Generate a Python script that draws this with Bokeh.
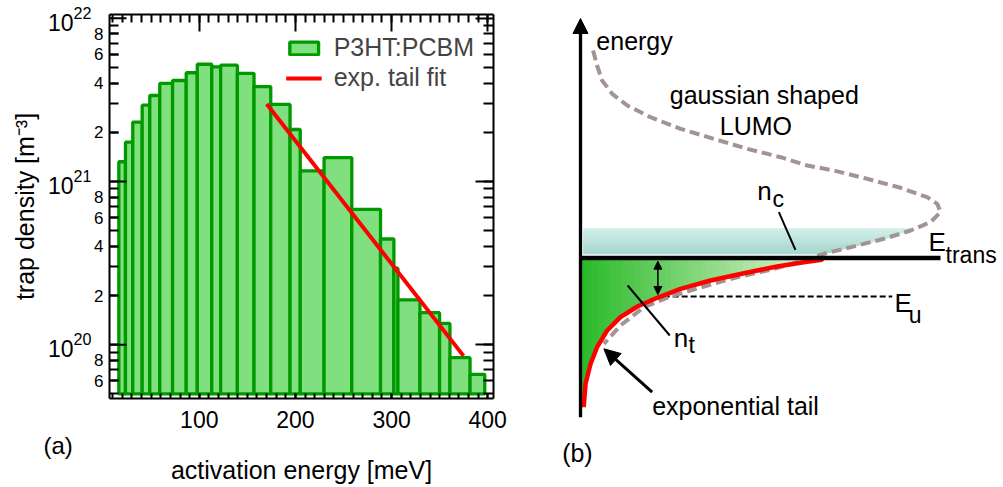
import numpy as np
from bokeh.plotting import figure
from bokeh.models import (Range1d, LogAxis, LinearAxis, FixedTicker, LogTickFormatter,
                          CustomJSTickFormatter, Title, Legend, LegendItem, Arrow, NormalHead)
from bokeh.layouts import row
from bokeh.core.properties import value
from bokeh.embed import file_html
from bokeh.resources import INLINE

FONT = "Liberation Sans"

# ---------------- panel (a) data ----------------
bin_edges = [16.3, 23.2, 30.8, 40.6, 48.5, 58.9, 72.2, 86.4, 97.9, 113.0, 122.2, 139.6, 156.9,
             174.3, 194.4, 205.0, 229.8, 258.6, 288.5, 302.4, 306.6, 329.5, 349.9, 360.7, 381.6, 396.9]
trap_density = [1.32e21, 1.74e21, 2.31e21, 2.93e21, 3.36e21, 3.99e21, 4.15e21, 4.63e21, 5.22e21,
                5.03e21, 5.15e21, 4.59e21, 3.81e21, 2.96e21, 2.08e21, 1.16e21, 1.40e21, 6.75e20,
                4.44e20, 2.94e20, 1.88e20, 1.57e20, 1.35e20, 8.32e19, 6.58e19]
fit_energy = [170.1, 374.8]
fit_density = [2.98e21, 8.54e19]
bar_base = 5e19

x_ticks = [100, 200, 300, 400]
x_minor = list(range(10, 410, 10))
y_ticks = [1e20, 1e21, 1e22]
y_minor = [k * 10.0 ** e for e in (19, 20, 21) for k in range(1, 10)]
minor_label_vals = [6e19, 8e19, 2e20, 4e20, 6e20, 8e20, 2e21, 4e21, 6e21, 8e21]

# ---------------- panel (b) data (schematic units) ----------------
gauss_x = [0.035, 0.046, 0.060, 0.088, 0.130, 0.194, 0.278, 0.370, 0.463, 0.556, 0.630, 0.704,
           0.796, 0.889, 0.963, 0.991, 1.000, 0.972, 0.917, 0.843, 0.750, 0.676, 0.620, 0.528,
           0.435, 0.343, 0.250, 0.176, 0.111, 0.065]
gauss_y = [2.075, 1.925, 1.775, 1.642, 1.525, 1.408, 1.292, 1.192, 1.092, 1.008, 0.925, 0.875,
           0.792, 0.702, 0.608, 0.542, 0.458, 0.358, 0.275, 0.192, 0.108, 0.042, -0.025, -0.118,
           -0.192, -0.285, -0.385, -0.492, -0.675, -0.858]
tail_x = [0.009, 0.014, 0.028, 0.046, 0.074, 0.111, 0.158, 0.213, 0.278, 0.361, 0.454, 0.546,
          0.620, 0.671, 0.672]
tail_y = [-1.492, -1.258, -1.058, -0.892, -0.725, -0.592, -0.485, -0.398, -0.308, -0.225,
          -0.152, -0.085, -0.042, -0.018, 0.0]
E_trans = 0.0
E_trans_span = [0.0, 1.0]
E_u = -0.385
E_u_span = [0.231, 0.866]
nc_band = [0.042, 0.292]   # energy span of the n_c band
band_left = 0.009
ptr_x0 = [0.551, 0.131]
ptr_y0 = [0.458, -0.275]
ptr_x1 = [0.597, 0.248]
ptr_y1 = [0.082, -0.775]
energy_axis = [0.0, -1.592, 0.0, 2.395]
double_arrow = [0.215, -0.032, 0.215, -0.365]
tail_arrow = [0.199, -1.342, 0.065, -0.908]

main_text = ["energy", "gaussian shaped", "LUMO", "exponential tail", "(b)"]
main_text_x = [0.044, 0.248, 0.387, 0.199, -0.051]
main_text_y = [2.108, 1.575, 1.258, -1.542, -2.008]
sym_text = ["n", "E", "E", "n"]
sym_x = [0.491, 0.967, 0.872, 0.259]
sym_y = [0.615, 0.102, -0.508, -0.858]
sub_text = ["c", "trans", "u", "t"]
sub_x = [0.533, 1.014, 0.912, 0.300]
sub_y = [0.535, -0.032, -0.625, -0.925]

# ================= panel (a) =================
x_start, x_end = 6.6, 406.0
p1 = figure(width=540, height=487, x_range=Range1d(x_start, x_end),
            y_range=Range1d(4.68e19, 1.053e22), y_axis_type="log",
            output_backend="svg", toolbar_location=None,
            min_border_left=109, min_border_right=47, min_border_top=14, min_border_bottom=89)
p1.grid.visible = False
p1.outline_line_color = None
p1.frame_align = False

r_bars = p1.quad(left=bin_edges[:-1], right=bin_edges[1:], bottom=bar_base, top=trap_density,
                 fill_color="#80e080", line_color="#009900", line_width=3.3)
r_fit = p1.line(fit_energy, fit_density, line_color="#ff0000", line_width=4)
# long decade ticks on the left frame edge
p1.ray(x=[x_start] * len(y_ticks), y=y_ticks, length=17, length_units="screen", angle=0,
       line_color="black", line_width=2)


def style_axis(ax, labels=True):
    ax.axis_line_width = 2
    ax.major_tick_line_width = 2
    ax.minor_tick_line_width = 2
    ax.major_tick_out = 0
    ax.minor_tick_out = 0
    ax.major_label_text_font = FONT
    ax.major_label_text_color = "black"
    ax.axis_label_text_font = FONT
    ax.axis_label_text_font_style = "normal"
    ax.axis_label_text_color = "black"
    if not labels:
        ax.major_label_text_font_size = "1px"
        ax.major_label_text_alpha = 0
        ax.major_label_standoff = 0


# inner left axis: frame line, minor ticks and the small 2/4/6/8 labels
yax = p1.yaxis[0]
yax.ticker = FixedTicker(ticks=minor_label_vals, minor_ticks=y_minor)
yax.formatter = CustomJSTickFormatter(
    code="const e = Math.floor(Math.log10(tick) + 1e-9); return String(Math.round(tick / Math.pow(10, e)));")
style_axis(yax)
yax.major_tick_in = 9
yax.minor_tick_in = 9
yax.major_label_text_font_size = "17px"
yax.major_label_standoff = 6

# outer left axis: decade labels and axis title
oax = LogAxis(ticker=FixedTicker(ticks=y_ticks), formatter=LogTickFormatter())
style_axis(oax)
oax.axis_line_color = None
oax.major_tick_line_color = None
oax.minor_tick_line_color = None
oax.major_tick_in = 0
oax.minor_tick_in = 0
oax.major_label_text_font_size = "23px"
oax.major_label_standoff = 0
oax.axis_label = "trap density [m⁻³]"
oax.axis_label_text_font_size = "25px"
oax.axis_label_standoff = 6
p1.add_layout(oax, "left")

xax = p1.xaxis[0]
xax.ticker = FixedTicker(ticks=x_ticks, minor_ticks=x_minor)
style_axis(xax)
xax.major_tick_in = 5
xax.minor_tick_in = 5
xax.major_label_text_font_size = "23px"
xax.major_label_standoff = 12

rax = LogAxis(ticker=FixedTicker(ticks=y_ticks, minor_ticks=y_minor))
style_axis(rax, labels=False)
rax.major_tick_in = 18
rax.minor_tick_in = 10
p1.add_layout(rax, "right")

tax = LinearAxis(ticker=FixedTicker(ticks=x_ticks, minor_ticks=x_minor))
style_axis(tax, labels=False)
tax.major_tick_in = 17
tax.minor_tick_in = 8
p1.add_layout(tax, "above")

p1.add_layout(Title(text="(a)", align="left", offset=-66, standoff=-2, text_font=FONT,
                    text_font_size="24px", text_font_style="normal", text_color="black"), "below")
p1.add_layout(Title(text="activation energy [meV]", align="center", standoff=-8, text_font=FONT,
                    text_font_size="25px", text_font_style="normal", text_color="black"), "below")

legend = Legend(items=[LegendItem(label="P3HT:PCBM", renderers=[r_bars]),
                       LegendItem(label="exp. tail fit", renderers=[r_fit])],
                location="top_right", margin=19, padding=0, spacing=1,
                glyph_width=36, glyph_height=16, label_standoff=12,
                label_text_font=FONT, label_text_font_size="25px",
                border_line_color=None, background_fill_alpha=0)
p1.add_layout(legend)

# ================= panel (b) =================
p2 = figure(width=463, height=487, x_range=Range1d(-0.1111, 1.175), y_range=Range1d(-2.295, 2.575),
            x_axis_type=None, y_axis_type=None, output_backend="svg", toolbar_location=None,
            min_border=0)
p2.outline_line_color = None
p2.grid.visible = False
p2.frame_align = False


def mix(c0, c1, t):
    r, g, b = (int(round(a + (bb - a) * t)) for a, bb in zip(c0, c1))
    return "#%02x%02x%02x" % (r, g, b)


# teal n_c band (vertical gradient), right edge follows lower branch of the gaussian
low_y = gauss_y[16:][::-1]
low_x = gauss_x[16:][::-1]
nb = 14
yb = np.linspace(nc_band[0], nc_band[1], nb + 1)
band_xs, band_ys, band_cols = [], [], []
for i in range(nb):
    yy = np.linspace(yb[i], yb[i + 1], 3)
    xr = np.interp(yy, low_y, low_x)
    band_xs.append([band_left] + list(xr) + [band_left])
    band_ys.append([yb[i]] + list(yy) + [yb[i + 1]])
    band_cols.append(mix((163, 213, 204), (210, 239, 233), (i + 0.5) / nb))
p2.patches(band_xs, band_ys, fill_color=band_cols, line_color=band_cols, line_width=1)

# green trapped-carrier fill (horizontal gradient) under the exponential tail
ng = 40
xg = np.linspace(0.0, tail_x[-1], ng + 1)
g_xs, g_ys, g_cols = [], [], []
for i in range(ng):
    xx = np.linspace(xg[i], xg[i + 1], 4)
    yy = np.interp(xx, tail_x, tail_y)
    g_xs.append([xg[i]] + list(xx) + [xg[i + 1]])
    g_ys.append([E_trans] + list(yy) + [E_trans])
    g_cols.append(mix((40, 185, 40), (230, 247, 214), (i + 0.5) / ng))
p2.patches(g_xs, g_ys, fill_color=g_cols, line_color=g_cols, line_width=1)

# E_u dashed level
p2.line(E_u_span, [E_u, E_u], line_color="black", line_width=2, line_dash="6 3")
# gaussian LUMO DOS (dashed)
p2.line(gauss_x, gauss_y, line_color="#a39494", line_width=4, line_dash="10 5")
# exponential tail
p2.line(tail_x, tail_y, line_color="#ff0000", line_width=4.5)
# transport level
p2.line(E_trans_span, [E_trans, E_trans], line_color="black", line_width=4.5)
# pointer lines
p2.segment(ptr_x0, ptr_y0, ptr_x1, ptr_y1, line_color="black", line_width=2)

p2.add_layout(Arrow(x_start=energy_axis[0], y_start=energy_axis[1], x_end=energy_axis[2],
                    y_end=energy_axis[3], line_width=3.3, line_color="black",
                    end=NormalHead(size=15, fill_color="black", line_color="black", line_width=1)))
p2.add_layout(Arrow(x_start=double_arrow[0], y_start=double_arrow[1], x_end=double_arrow[2],
                    y_end=double_arrow[3], line_width=1.5, line_color="black",
                    start=NormalHead(size=8, fill_color="black", line_color="black", line_width=1),
                    end=NormalHead(size=8, fill_color="black", line_color="black", line_width=1)))
p2.add_layout(Arrow(x_start=tail_arrow[0], y_start=tail_arrow[1], x_end=tail_arrow[2],
                    y_end=tail_arrow[3], line_width=3, line_color="black",
                    end=NormalHead(size=16, fill_color="black", line_color="black", line_width=1)))

p2.text(main_text_x, main_text_y, text=main_text, text_font=value(FONT), text_font_size="25px",
        text_baseline="alphabetic", text_align="left", text_color="black", y_offset=-6)
p2.text(sym_x, sym_y, text=sym_text, text_font=value(FONT), text_font_size="26px",
        text_baseline="alphabetic", text_align="left", text_color="black", y_offset=-6)
p2.text(sub_x, sub_y, text=sub_text, text_font=value(FONT), text_font_size="23px",
        text_baseline="alphabetic", text_align="left", text_color="black", y_offset=-6)

layout = row(p1, p2)
open("out.html", "w").write(file_html(layout, INLINE))
